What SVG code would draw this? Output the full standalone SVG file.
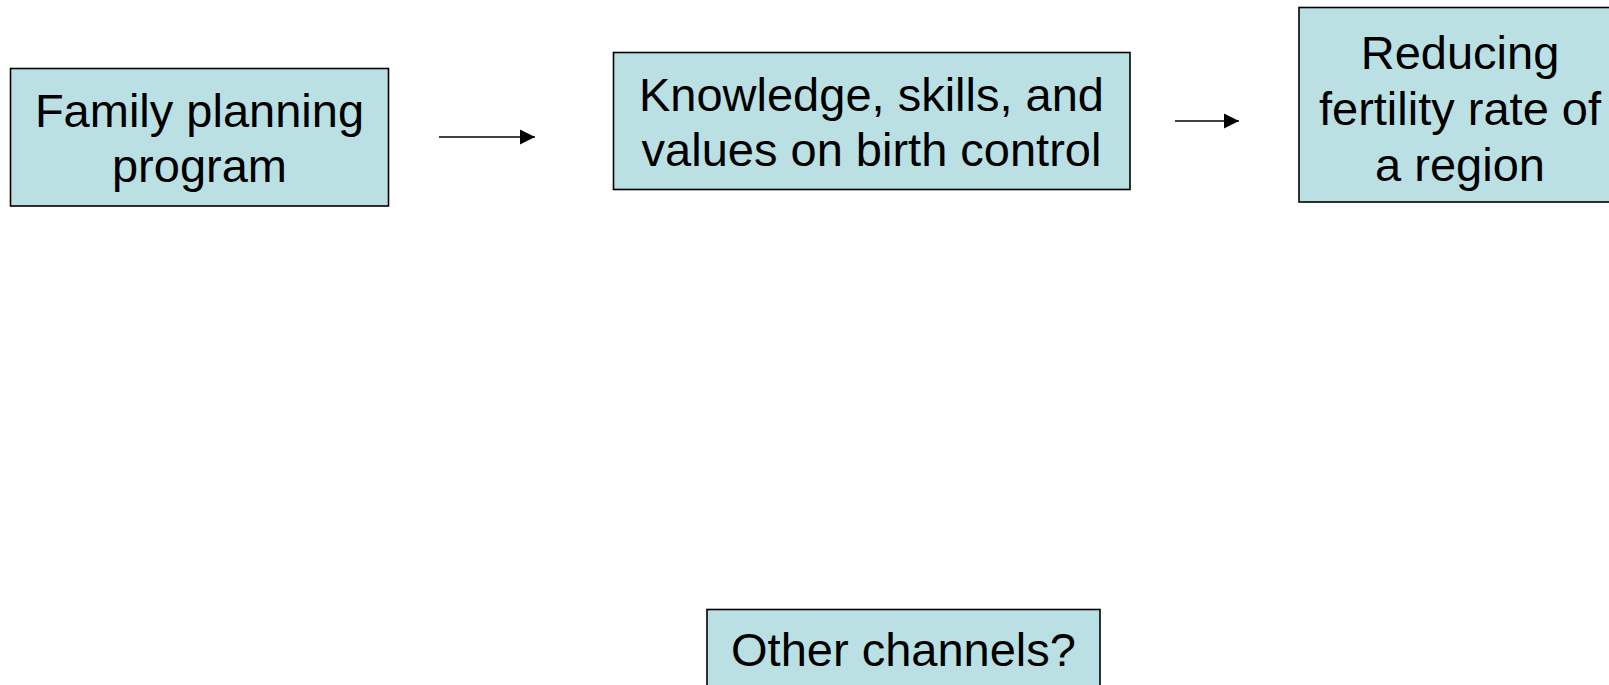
<svg xmlns="http://www.w3.org/2000/svg" width="1609" height="685" viewBox="0 0 1609 685">
  <style>
    .box { fill: #bae0e3; stroke: #000; stroke-width: 1.6; }
    .label { font-family: "Liberation Sans", Arial, sans-serif; font-size: 47px; fill: #000; text-anchor: middle; }
    .link { stroke: #000; stroke-width: 1.6; fill: none; marker-end: url(#arrow); }
  </style>
  <defs>
    <marker id="arrow" markerWidth="16" markerHeight="16" refX="15" refY="8" orient="auto" markerUnits="userSpaceOnUse">
      <path d="M0,0.5 L15,8 L0,15.5 Z" fill="#000"/>
    </marker>
  </defs>
  <rect width="1609" height="685" fill="#fff"/>

  <g id="connectors">
    <line class="link" x1="439" y1="137" x2="535" y2="137"/>
    <line class="link" x1="1175" y1="121" x2="1239" y2="121"/>
  </g>

  <g id="family-planning">
    <rect class="box" x="10.5" y="68.5" width="378" height="137.5"/>
    <text class="label" x="199.5" y="127">Family planning</text>
    <text class="label" x="199.5" y="182">program</text>
  </g>

  <g id="knowledge">
    <rect class="box" x="613.5" y="52.5" width="516.5" height="137"/>
    <text class="label" x="871.5" y="111">Knowledge, skills, and</text>
    <text class="label" x="871.5" y="166">values on birth control</text>
  </g>

  <g id="fertility">
    <rect class="box" x="1299" y="7.5" width="330" height="194.5"/>
    <text class="label" x="1460" y="69">Reducing</text>
    <text class="label" x="1460" y="125">fertility rate of</text>
    <text class="label" x="1460" y="181">a region</text>
  </g>

  <g id="other-channels">
    <rect class="box" x="707" y="609.5" width="393" height="100"/>
    <text class="label" x="903.5" y="666">Other channels?</text>
  </g>
</svg>
